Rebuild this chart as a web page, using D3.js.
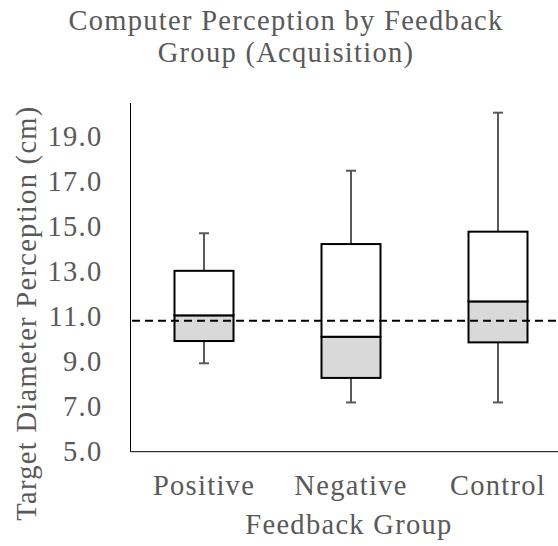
<!DOCTYPE html>
<html>
<head>
<meta charset="utf-8">
<script src="https://cdn.jsdelivr.net/npm/d3@7"></script>
<style>
  html, body { margin: 0; padding: 0; background: #fff; }
  svg { display: block; }
  text { font-family: "Liberation Serif", "Times New Roman", serif; fill: #595959; letter-spacing: 1.3px; }
</style>
</head>
<body>
<svg id="chart" width="558" height="546"></svg>
<script>
// Feedback groups and their box-plot summaries (cm)
const groups = ["Positive", "Negative", "Control"];
const whiskerMin = [8.93, 7.19, 7.19];
const q1 = [9.92, 8.28, 9.86];
const median = [11.06, 10.11, 11.68];
const q3 = [13.04, 14.23, 14.78];
const whiskerMax = [14.71, 17.49, 20.07];
const referenceValue = 10.82;
const yTicks = [5, 7, 9, 11, 13, 15, 17, 19];

const svg = d3.select("#chart");
const W = 558, H = 546;
const FS = "28.5px";

const x = d3.scaleBand().domain(groups).range([130.5, 571.5]).paddingInner(0.6).paddingOuter(0.3);
const y = d3.scaleLinear().domain([5, 20.5]).range([451.7, 103]);

const fmt = d3.format(".1f");

// Title
svg.append("text").attr("x", 286).attr("y", 30).attr("text-anchor", "middle")
  .style("font-size", FS).text("Computer Perception by Feedback");
svg.append("text").attr("x", 286).attr("y", 62).attr("text-anchor", "middle")
  .style("font-size", FS).text("Group (Acquisition)");

// Y axis labels
const yAxis = d3.axisLeft(y).tickValues(yTicks).tickFormat(fmt).tickSize(0).tickPadding(28);
const gy = svg.append("g").attr("transform", "translate(130.5,0)").call(yAxis);
gy.select(".domain").remove();
gy.selectAll("text").style("font-size", FS).style("font-family", "'Liberation Serif', serif").attr("fill", "#595959");

// Box parts
const idx = groups.map((g, i) => i);
const bw = 59;
const cx = i => x(groups[i]) + x.bandwidth() / 2;

const g = svg.append("g");

// Whiskers
idx.forEach(i => {
  const c = cx(i);
  g.append("line").attr("x1", c).attr("x2", c).attr("y1", y(q3[i])).attr("y2", y(whiskerMax[i]))
    .attr("stroke", "#595959").attr("stroke-width", 2);
  g.append("line").attr("x1", c).attr("x2", c).attr("y1", y(q1[i])).attr("y2", y(whiskerMin[i]))
    .attr("stroke", "#595959").attr("stroke-width", 2);
  g.append("line").attr("x1", c - 5).attr("x2", c + 5).attr("y1", y(whiskerMax[i])).attr("y2", y(whiskerMax[i]))
    .attr("stroke", "#595959").attr("stroke-width", 2);
  g.append("line").attr("x1", c - 5).attr("x2", c + 5).attr("y1", y(whiskerMin[i])).attr("y2", y(whiskerMin[i]))
    .attr("stroke", "#595959").attr("stroke-width", 2);
});

// Lower box (Q1 to median), grey fill
g.selectAll("rect.lower").data(idx).join("rect").attr("class", "lower")
  .attr("x", i => cx(i) - bw / 2).attr("width", bw)
  .attr("y", i => y(median[i])).attr("height", i => y(q1[i]) - y(median[i]))
  .attr("fill", "#d9d9d9").attr("stroke", "#000").attr("stroke-width", 2);

// Upper box (median to Q3), white fill
g.selectAll("rect.upper").data(idx).join("rect").attr("class", "upper")
  .attr("x", i => cx(i) - bw / 2).attr("width", bw)
  .attr("y", i => y(q3[i])).attr("height", i => y(median[i]) - y(q3[i]))
  .attr("fill", "#fff").attr("stroke", "#000").attr("stroke-width", 2);

// Reference dashed line
svg.append("line").attr("x1", 132).attr("x2", W).attr("y1", y(referenceValue)).attr("y2", y(referenceValue))
  .attr("stroke", "#000").attr("stroke-width", 2).attr("stroke-dasharray", "8,5");

// Axis lines
svg.append("line").attr("x1", 130.5).attr("x2", 130.5).attr("y1", 103).attr("y2", y(5))
  .attr("stroke", "#000").attr("stroke-width", 1);
svg.append("line").attr("x1", 130.5).attr("x2", W).attr("y1", y(5)).attr("y2", y(5))
  .attr("stroke", "#000").attr("stroke-width", 1);

// Category labels
const xAxis = d3.axisBottom(x).tickSize(0).tickPadding(0);
const gx = svg.append("g").attr("transform", "translate(0,475)").call(xAxis);
gx.select(".domain").remove();
gx.selectAll("text").style("font-size", FS).style("font-family", "'Liberation Serif', serif")
  .attr("fill", "#595959").attr("dy", "0.71em");

// Axis titles
svg.append("text").attr("x", 349).attr("y", 534).attr("text-anchor", "middle")
  .style("font-size", FS).text("Feedback Group");
svg.append("text").attr("transform", "translate(36,313) rotate(-90)").attr("text-anchor", "middle")
  .style("font-size", FS).text("Target Diameter Perception (cm)");
</script>
</body>
</html>
